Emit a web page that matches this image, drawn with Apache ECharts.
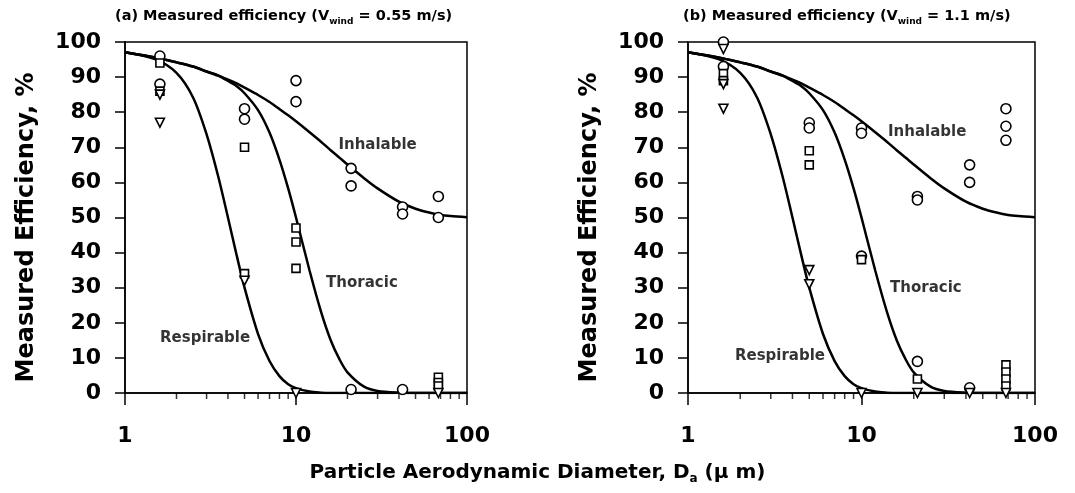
<!DOCTYPE html>
<html>
<head>
<meta charset="utf-8">
<script src="https://cdn.jsdelivr.net/npm/echarts@6/dist/echarts.min.js"></script>
<style>html,body{margin:0;padding:0;background:#fff}#c{width:1075px;height:493px}</style>
</head>
<body>
<div id="c"></div>
<script>
// Curve sample diameters (µm) and efficiencies (%)
const diam = [1, 1.5, 2, 2.5, 3, 3.5, 4, 4.5, 5, 6, 7, 8, 9, 10, 12, 14, 16, 18, 20, 25, 30, 40, 50, 60, 70, 80, 100];
const inhalable = [97.1, 95.6, 94.2, 93.0, 91.6, 90.5, 89.3, 88.2, 87.0, 84.9, 82.9, 80.9, 79.1, 77.4, 74.3, 71.6, 69.1, 67.0, 65.1, 61.2, 58.3, 54.5, 52.5, 51.4, 50.7, 50.4, 50.1];
const thoracic = [97.1, 95.6, 94.2, 93.0, 91.6, 90.4, 88.9, 87.4, 85.4, 80.6, 74.2, 66.5, 58.3, 50.0, 34.9, 23.2, 14.9, 9.5, 5.9, 1.8, 0.6, 0.1, 0, 0, 0, 0, 0];
const respirable = [97.1, 95.1, 91.2, 84.2, 73.7, 61.9, 50.0, 39.2, 30.0, 16.8, 9.1, 4.8, 2.5, 1.4, 0.4, 0.1, 0, 0, 0, 0, 0, 0, 0, 0, 0, 0, 0];

// Panel (a) measured points [diameter, efficiency]
const aCircles = [[1.6,96],[1.6,88],[5,81],[5,78],[10,89],[10,83],[21,64],[21,59],[21,1],[42,53],[42,51],[42,1],[68,56],[68,50]];
const aSquares = [[1.6,94],[1.6,86],[5,70],[5,34],[10,47],[10,43],[10,35.5],[68,4.5],[68,3],[68,2]];
const aTriangles = [[1.6,85],[1.6,77],[5,32],[10,0],[68,0]];

// Panel (b) measured points
const bCircles = [[1.6,100],[1.6,93],[5,77],[5,75.5],[10,75.5],[10,74],[10,39],[21,56],[21,55],[21,9],[42,65],[42,60],[42,1.5],[68,81],[68,76],[68,72]];
const bSquares = [[1.6,91],[1.6,89],[5,69],[5,65],[10,38],[21,4],[68,8],[68,6],[68,4],[68,2]];
const bTriangles = [[1.6,98],[1.6,88],[1.6,81],[5,35],[5,31],[10,0],[21,0],[42,0],[68,0]];

// Curve labels [diameter, efficiency]
const labelsA = [{name:'Inhalable', value:[30,70.7]},{name:'Thoracic', value:[24.3,31.3]},{name:'Respirable', value:[2.94,15.7]}];
const labelsB = [{name:'Inhalable', value:[23.9,74.4]},{name:'Thoracic', value:[23.5,29.9]},{name:'Respirable', value:[3.39,10.5]}];

const minorTicks = [2,3,4,5,6,7,8,9,20,30,40,50,60,70,80,90];
const yTicks = {min:0, max:100, interval:10};

const FONT = 'DejaVu Sans';
const pair = (xs, ys) => xs.map((x, i) => [x, ys[i]]);

function xAxis(gi) {
  return {
    type: 'log', logBase: 10, min: 1, max: 100, gridIndex: gi,
    axisLine: {lineStyle: {color:'#000', width:1.5}},
    axisTick: {length: 12, lineStyle: {color:'#000', width:1.5}},
    axisLabel: {color:'#000', fontFamily: FONT, fontWeight:'bold', fontSize: 22, margin: 32},
    splitLine: {show:false}
  };
}
function yAxis(gi) {
  return {
    type: 'value', min: yTicks.min, max: yTicks.max, interval: yTicks.interval, gridIndex: gi,
    name: 'Measured Efficiency, %', nameLocation: 'middle', nameGap: 86,
    nameTextStyle: {color:'#000', fontFamily: FONT, fontWeight:'bold', fontSize: 24, padding: [0, 20, 0, 0]},
    axisLine: {show:true, lineStyle: {color:'#000', width:1.5}},
    axisTick: {show:true, length: 10, lineStyle: {color:'#000', width:1.5}},
    axisLabel: {color:'#000', fontFamily: FONT, fontWeight:'bold', fontSize: 22, margin: 24},
    splitLine: {show:false}
  };
}
function curve(gi, ys) {
  return {type:'line', xAxisIndex: gi, yAxisIndex: gi, data: pair(diam, ys), smooth: 0.3,
    showSymbol: false, lineStyle: {color:'#000', width: 2.5}, z: 2, silent: true};
}
function marks(gi, data, symbol, size, rot) {
  return {type:'scatter', xAxisIndex: gi, yAxisIndex: gi, data: data, symbol: symbol,
    symbolSize: size, symbolRotate: rot || 0, clip: false, z: 5,
    itemStyle: {color:'#fff', borderColor:'#000', borderWidth: 1.6, opacity: 1}};
}
function tickSeries(gi) {
  return {type:'scatter', xAxisIndex: gi, yAxisIndex: gi, data: minorTicks.map(d => [d, 0]),
    symbol: 'rect', symbolSize: [1.5, 6], symbolOffset: [0, 3], clip: false, silent: true,
    itemStyle: {color:'#000'}, z: 3};
}
function labelSeries(gi, data) {
  return {type:'scatter', xAxisIndex: gi, yAxisIndex: gi, data: data, symbolSize: 0, silent: true,
    label: {show: true, position: 'inside', formatter: '{b}', color:'#000', fontFamily: FONT,
      fontWeight: 'bold', fontSize: 15, textBorderWidth: 0}, z: 6};
}

const richT = {
  n: {fontFamily: FONT, fontWeight: 'bold', fontSize: 14.5, color:'#000'},
  s: {fontFamily: FONT, fontWeight: 'bold', fontSize: 9, color:'#000', padding: [10, 0, 0, 0]}
};
const richX = {
  n: {fontFamily: FONT, fontWeight: 'bold', fontSize: 20, color:'#000'},
  s: {fontFamily: FONT, fontWeight: 'bold', fontSize: 12, color:'#000', padding: [13, 0, 0, 0]}
};

const chart = echarts.init(document.getElementById('c'));
chart.setOption({
  animation: false,
  backgroundColor: '#fff',
  title: [
    {text: '{n|(a) Measured efficiency (V}{s|wind}{n| = 0.55 m/s)}', left: 110, top: 2, textStyle: {rich: richT}},
    {text: '{n|(b) Measured efficiency (V}{s|wind}{n| = 1.1 m/s)}', left: 678, top: 2, textStyle: {rich: richT}},
    {text: '{n|Particle Aerodynamic Diameter, D}{s|a}{n| (\u00b5 m)}', left: 'center', top: 455, textStyle: {rich: richX}}
  ],
  grid: [
    {left: 125, top: 42, width: 342, height: 351, show: true, borderColor:'#000', borderWidth: 1.5},
    {left: 688, top: 42, width: 347, height: 351, show: true, borderColor:'#000', borderWidth: 1.5}
  ],
  xAxis: [xAxis(0), xAxis(1)],
  yAxis: [yAxis(0), yAxis(1)],
  series: [
    curve(0, inhalable), curve(0, thoracic), curve(0, respirable),
    curve(1, inhalable), curve(1, thoracic), curve(1, respirable),
    tickSeries(0), tickSeries(1),
    marks(0, aCircles, 'circle', 10), marks(0, aSquares, 'rect', 8), marks(0, aTriangles, 'triangle', 9, 180),
    marks(1, bCircles, 'circle', 10), marks(1, bSquares, 'rect', 8), marks(1, bTriangles, 'triangle', 9, 180),
    labelSeries(0, labelsA), labelSeries(1, labelsB)
  ]
});
</script>
</body>
</html>
